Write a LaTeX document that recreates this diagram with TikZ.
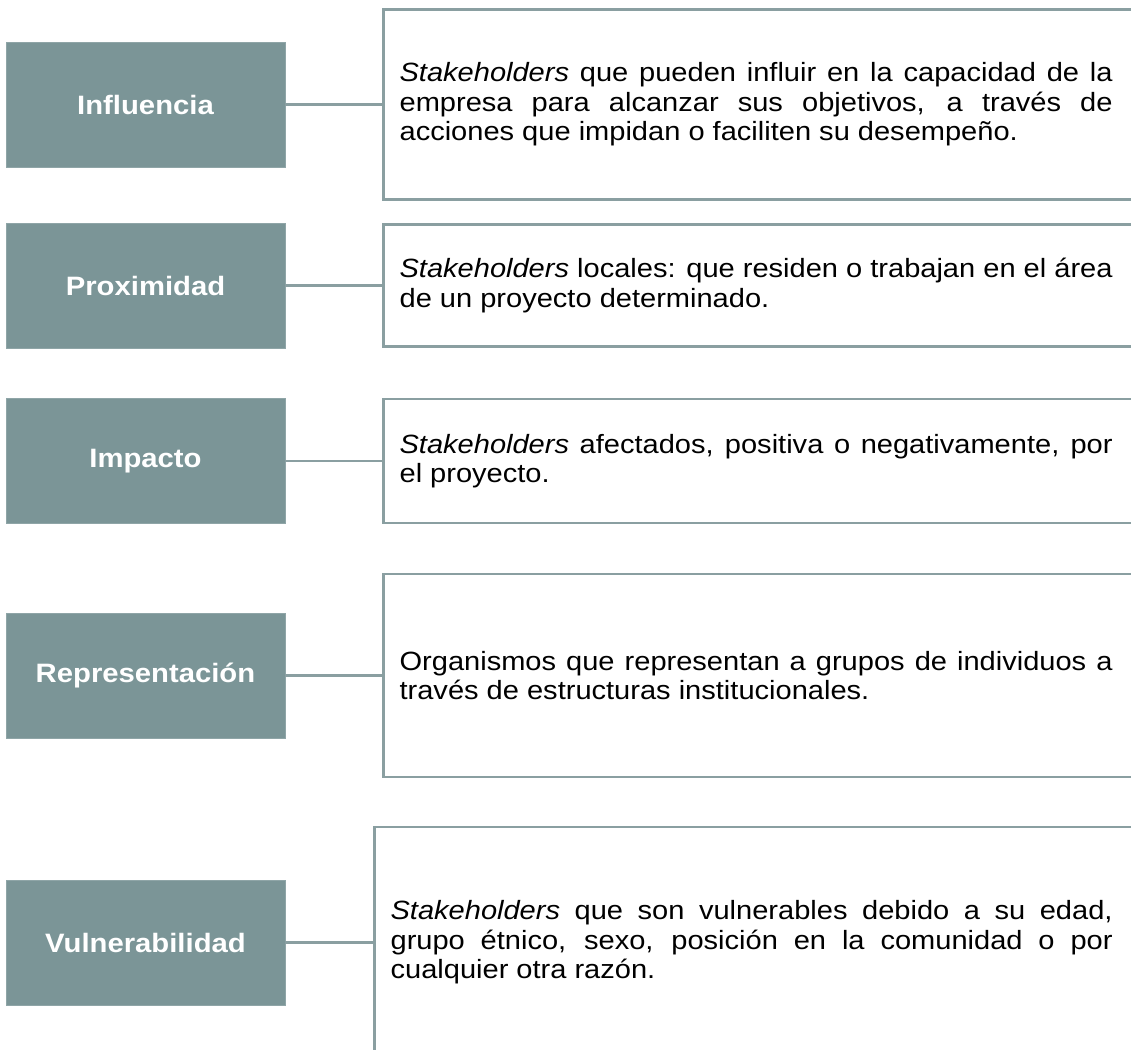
\documentclass[tikz,border=0pt]{standalone}
\usepackage{fontspec}
\setmainfont[FakeStretch=1.1]{Liberation Sans}
\usetikzlibrary{positioning}
\definecolor{boxgray}{HTML}{7B9597}
\definecolor{linegray}{HTML}{8A9FA1}

\begin{document}
\begin{tikzpicture}[x=1pt, y=-1pt, node distance=98pt,
    catbox/.style={rectangle, fill=boxgray, draw=boxgray!85!white, line width=0.8pt, minimum width=279pt, minimum height=125pt, inner sep=0pt, text=white, font=\fontsize{26.6}{30}\selectfont\bfseries},
    bracketbox/.style={rectangle, minimum width=770pt, inner sep=0pt},
    desc/.style={text width=713pt, align=justify, inner sep=0pt, font=\fontsize{26.4}{29.5}\selectfont},
    wire/.style={draw=linegray, line width=2.2pt}]
          \useasboundingbox (0,0) rectangle (1131,1049);
          \clip (0,0) rectangle (1131,1049);
          \fill[white] (0,0) rectangle (1131,1049);

          \node[catbox] (inf) at (145.5,104.5) {Influencia};
          \node[catbox] (prox) at (145.5,285.5) {Proximidad};
          \node[catbox] (imp) at (145.5,461) {Impacto};
          \node[catbox] (rep) at (145.5,675.5) {Representación};
          \node[catbox] (vul) at (145.5,942.5) {Vulnerabilidad};

          \node[bracketbox, minimum height=189.5pt] (infB) [right=of inf] {};
          \node[bracketbox, minimum height=121.7pt] (proxB) [right=of prox] {};
          \node[bracketbox, minimum height=123pt] (impB) [right=of imp] {};
          \node[bracketbox, minimum height=203pt] (repB) [right=of rep] {};
          \node[bracketbox, minimum height=230pt] (vulB) [right=89pt of vul] {};

          \node[desc] (infT) [right=16pt of infB.west] {\textit{Stakeholders} que pueden influir en la capacidad de la\linebreak empresa para alcanzar sus objetivos, a través de\linebreak acciones que impidan o faciliten su desempeño.};
          \node[desc] (proxT) [right=16pt of proxB.west] {\textit{Stakeholders} locales: que residen o trabajan en el área\linebreak de un proyecto determinado.};
          \node[desc] (impT) [right=16pt of impB.west] {\textit{Stakeholders} afectados, positiva o negativamente, por\linebreak el proyecto.};
          \node[desc] (repT) [right=16pt of repB.west] {Organismos que representan a grupos de individuos a\linebreak través de estructuras institucionales.};
          \node[desc, text width=722pt] (vulT) [right=16pt of vulB.west] {\textit{Stakeholders} que son vulnerables debido a su edad,\linebreak grupo étnico, sexo, posición en la comunidad o por\linebreak cualquier otra razón.};

          \draw[wire] (infB.north east) -- (infB.north west) -- (infB.south west) -- (infB.south east);
          \draw[wire] (proxB.north east) -- (proxB.north west) -- (proxB.south west) -- (proxB.south east);
          \draw[wire] (impB.north east) -- (impB.north west) -- (impB.south west) -- (impB.south east);
          \draw[wire] (repB.north east) -- (repB.north west) -- (repB.south west) -- (repB.south east);
          \draw[wire] (vulB.north east) -- (vulB.north west) -- (vulB.south west) -- (vulB.south east);

          \draw[wire] (inf) -- (infB);
          \draw[wire] (prox) -- (proxB);
          \draw[wire] (imp) -- (impB);
          \draw[wire] (rep) -- (repB);
          \draw[wire] (vul) -- (vulB);
        \end{tikzpicture}
\end{document}
